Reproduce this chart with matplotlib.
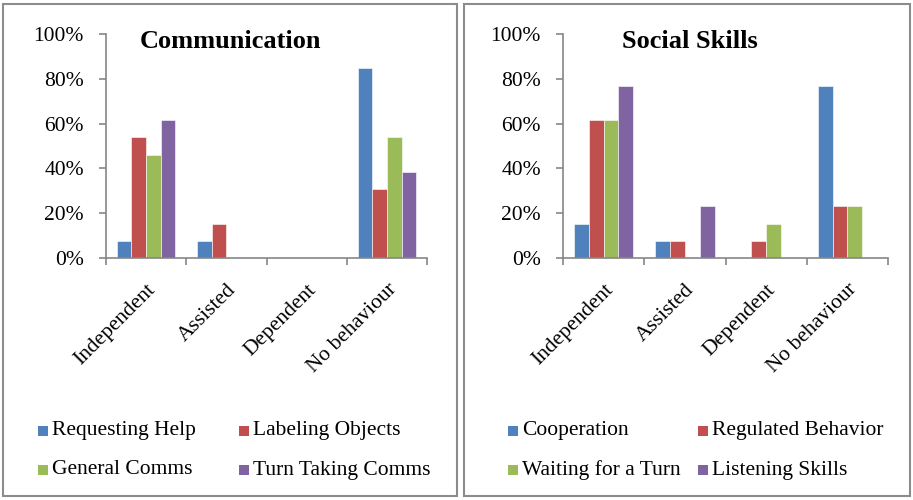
import matplotlib
matplotlib.use("Agg")
import matplotlib.pyplot as plt
import matplotlib.transforms as mtransforms
import numpy as np
from matplotlib.patches import Rectangle
from matplotlib.ticker import PercentFormatter

plt.rcParams['font.family'] = ['Liberation Serif', 'DejaVu Serif']

categories = ["Independent", "Assisted", "Dependent", "No behaviour"]
colors = ["#4F81BD", "#C0504D", "#9BBB59", "#8064A2"]

comm_names = ["Requesting Help", "Labeling Objects", "General Comms", "Turn Taking Comms"]
comm_values = [
    [7.7, 7.7, 0, 84.6],
    [53.8, 15.4, 0, 30.8],
    [46.2, 0, 0, 53.8],
    [61.5, 0, 0, 38.5],
]

social_names = ["Cooperation", "Regulated Behavior", "Waiting for a Turn", "Listening Skills"]
social_values = [
    [15.4, 7.7, 0, 76.9],
    [61.5, 7.7, 7.7, 23.1],
    [61.5, 0, 15.4, 23.1],
    [76.9, 23.1, 0, 0],
]

W, H = 913, 500
fig = plt.figure(figsize=(W / 100, H / 100), dpi=100)

# panel borders
for x0, x1 in [(3, 457), (464, 910)]:
    fig.add_artist(Rectangle((x0 / W, 4 / H), (x1 - x0) / W, 492 / H,
                             transform=fig.transFigure, fill=False,
                             edgecolor="#8c8c8c", linewidth=1.5))

axis_col = "#868686"
fs = 15.5


def panel(left, right, title, title_x, names, values, leg_cols):
    ax = fig.add_axes([left / W, (H - 258) / H, (right - left) / W, 224 / H])
    x = np.arange(len(categories))
    bw = 0.183
    for i, vals in enumerate(values):
        ax.bar(x + (i - 1.5) * bw, vals, bw, color=colors[i],
               edgecolor="white", linewidth=0.4)
    ax.set_xlim(-0.5, len(categories) - 0.5)
    ax.set_ylim(0, 100)
    ax.set_yticks(range(0, 101, 20))
    ax.yaxis.set_major_formatter(PercentFormatter(decimals=0))
    ax.set_xticks(x)
    ax.set_xticklabels(categories, rotation=45, ha="right", rotation_mode="anchor")
    shift = mtransforms.ScaledTranslation(-9 / 100, 0, fig.dpi_scale_trans)
    for lab in ax.get_xticklabels():
        lab.set_transform(lab.get_transform() + shift)
    ax.set_xticks(np.arange(-0.5, len(categories)), minor=True)
    ax.tick_params(axis="x", which="major", length=0, pad=16, labelsize=fs)
    ax.tick_params(axis="x", which="minor", length=5, color=axis_col, width=1.2)
    ax.tick_params(axis="y", length=5, color=axis_col, width=1.2, labelsize=fs, pad=11)
    for s in ["top", "right"]:
        ax.spines[s].set_visible(False)
    for s in ["left", "bottom"]:
        ax.spines[s].set_color(axis_col)
        ax.spines[s].set_linewidth(1.2)
    fig.text(title_x / W, (H - 42) / H, title, ha="center", va="center",
             fontsize=19, fontweight="bold")
    # legend, row by row like Excel
    for i, name in enumerate(names):
        mx = leg_cols[i % 2]
        my = [431, 470][i // 2]
        fig.add_artist(Rectangle((mx / W, (H - my - 5) / H), 10 / W, 10 / H,
                                 transform=fig.transFigure, facecolor=colors[i],
                                 edgecolor="none"))
        fig.text((mx + 14) / W, (H - my) / H, name, ha="left", va="center",
                 fontsize=fs)


panel(106, 427, "Communication", 230, comm_names, comm_values, [38, 239])
panel(563, 888, "Social Skills", 690, social_names, social_values, [508, 698])

fig.savefig("out.png", dpi=100)
